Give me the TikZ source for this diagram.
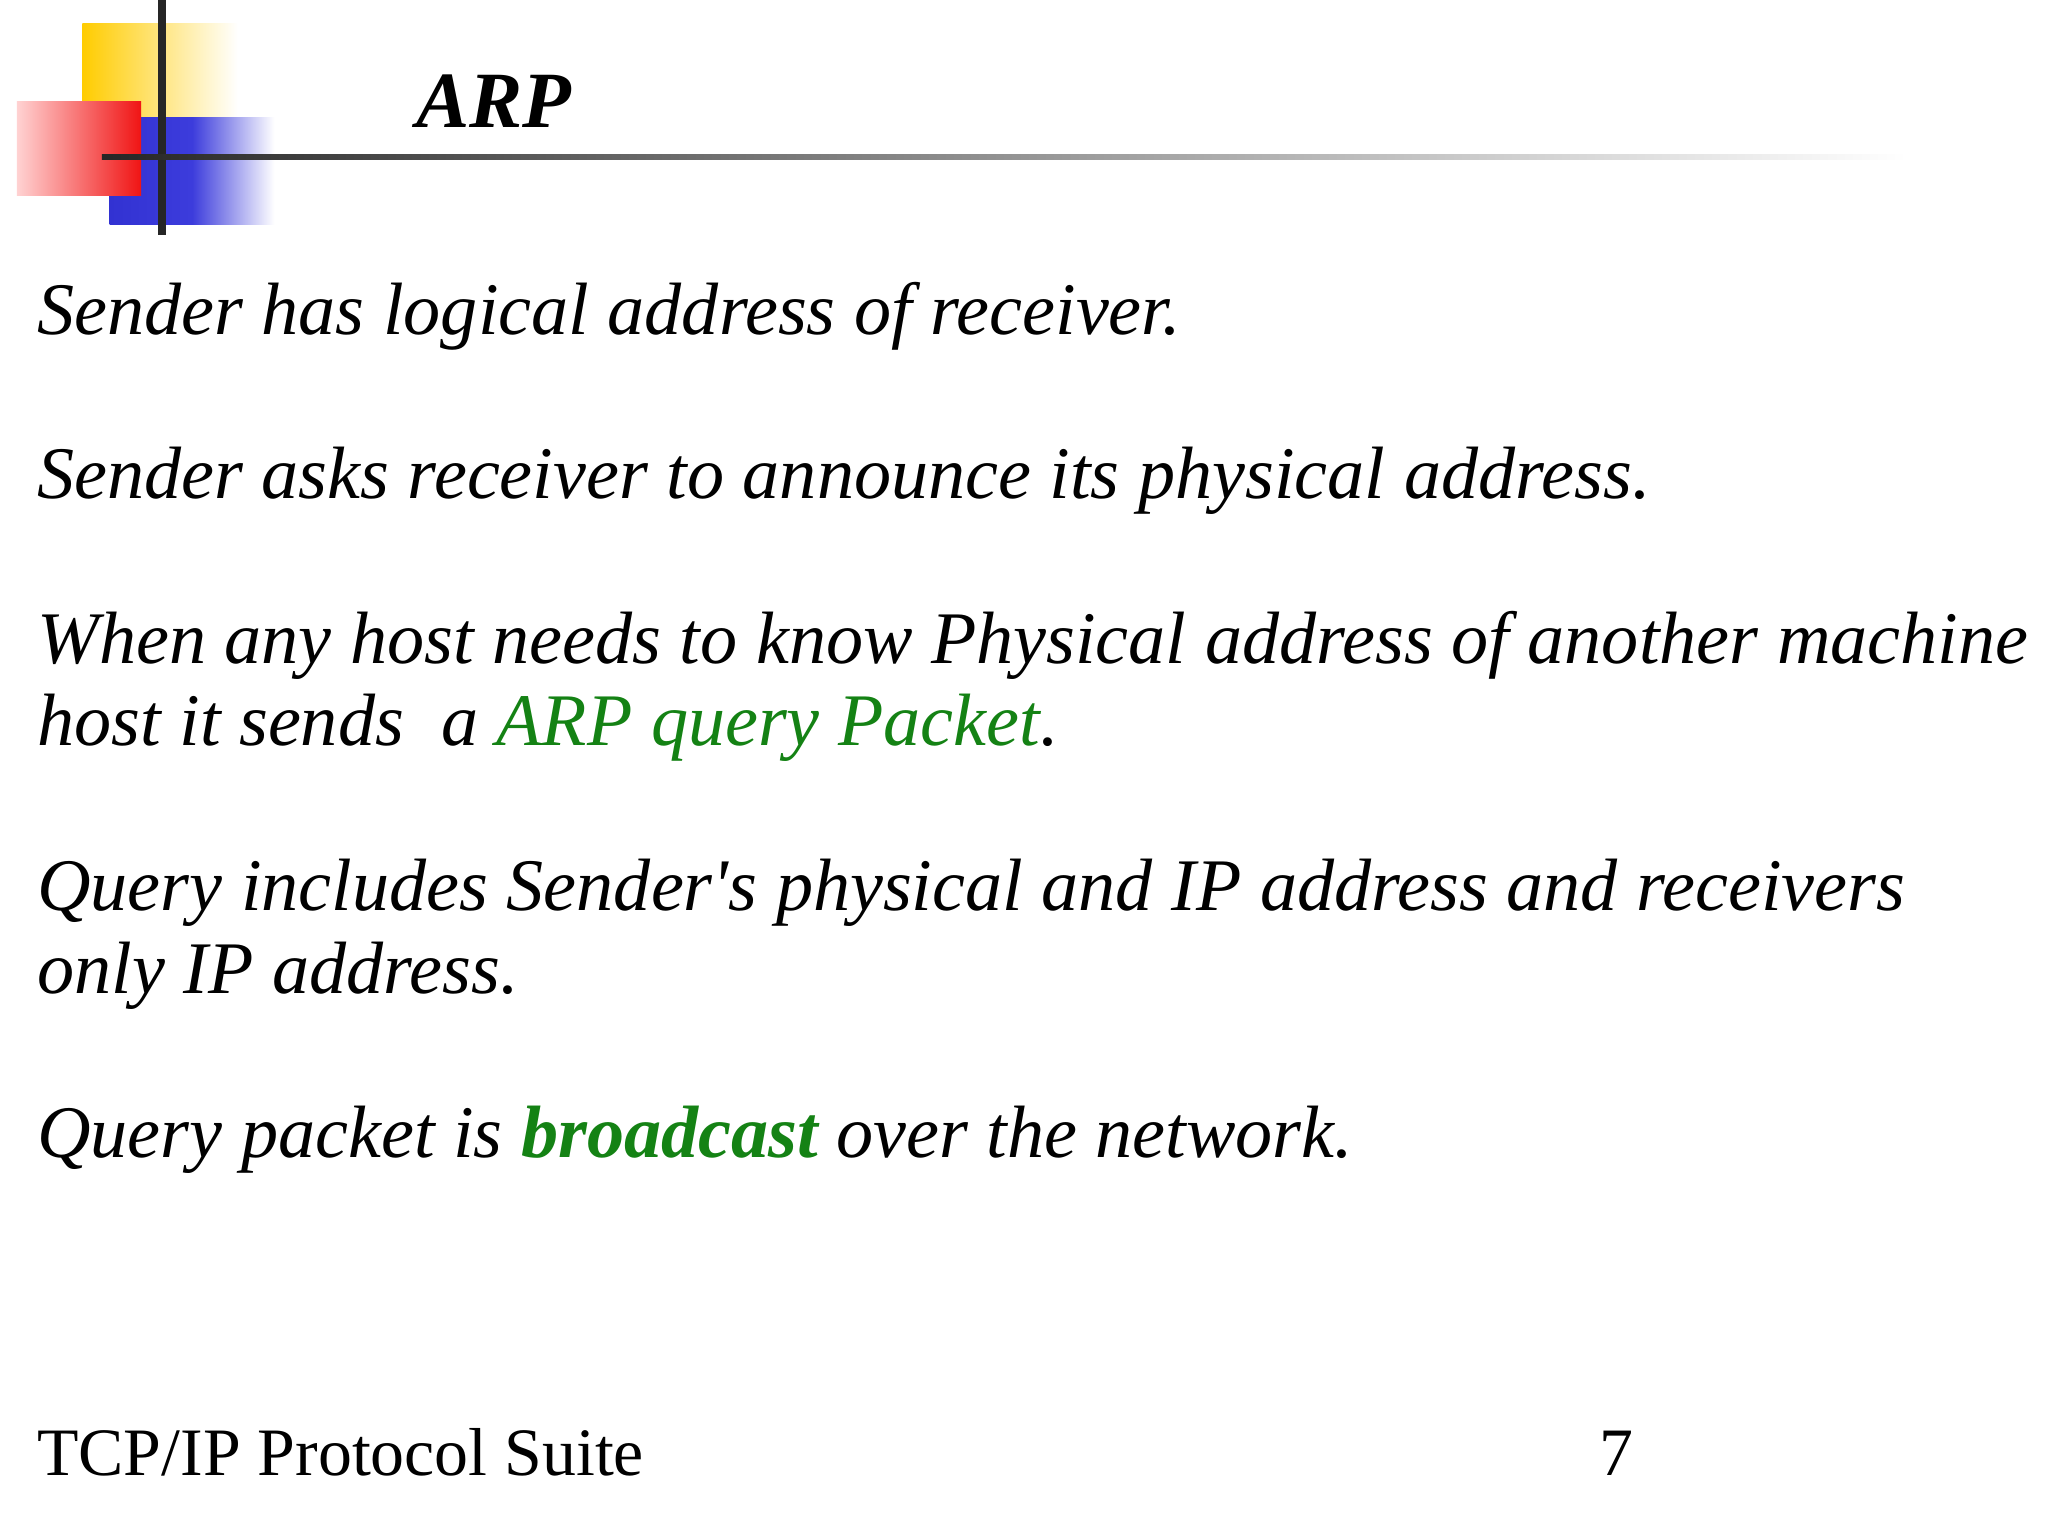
\documentclass[tikz,border=0pt]{standalone}
\usepackage{fontspec}
\setmainfont{Liberation Serif}
\definecolor{grn}{RGB}{20,130,20}
\begin{document}
\begin{tikzpicture}[x=0.013061cm,y=-0.013061cm,
  body/.style={anchor=base west,inner sep=0pt,font=\fontsize{21.1}{25}\selectfont\itshape}]
\useasboundingbox (0,0) rectangle (1568,1176);
\fill[white] (0,0) rectangle (1568,1176);
% logo
\shade[left color={rgb,255:red,255;green,204;blue,0}, right color=white] (63,18) rectangle (182,120);
\shade[left color={rgb,255:red,50;green,50;blue,210}, right color=white, middle color={rgb,255:red,60;green,60;blue,220}] (84,90) rectangle (210,172);
\shade[left color={rgb,255:red,255;green,210;blue,210}, right color={rgb,255:red,240;green,20;blue,20}] (13,78) rectangle (108,150);
\draw[line width=2.5pt,black!85] (124,0) -- (124,180);
\shade[left color=black!85, right color=white] (78,118) rectangle (1460,122);
\node[anchor=base west,inner sep=0pt,font=\fontsize{22.7}{27}\selectfont\bfseries\itshape] (t) at (318,98) {ARP};
\node[body] (l1) at (28,256) {Sender has logical address of receiver.};
\node[body] (l2) at (28,382) {Sender asks receiver to announce its physical address.};
\node[body] (l3) at (28,508) {When any host needs to know Physical address of another machine};
\node[body] (l4) at (28,571) {host it sends\ \ a \textcolor{grn}{ARP query Packet}.};
\node[body] (l5) at (28,697) {Query includes Sender\textquotesingle s physical and IP address and receivers};
\node[body] (l6) at (28,761) {only IP address.};
\node[body] (l7) at (28,886) {Query packet is \textcolor{grn}{\bfseries broadcast} over the network.};
\node[anchor=base west,inner sep=0pt,font=\fontsize{19.3}{23}\selectfont] (f) at (28,1130) {TCP/IP Protocol Suite};
\node[anchor=base west,inner sep=0pt,font=\fontsize{19.3}{23}\selectfont] (n) at (1224,1130) {7};
\end{tikzpicture}
\end{document}
